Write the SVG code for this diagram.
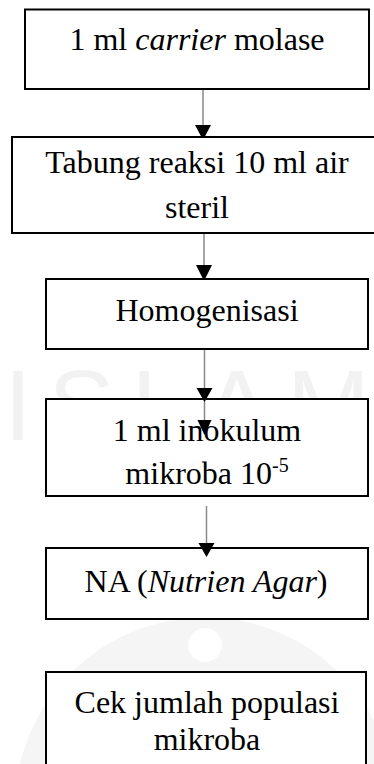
<svg xmlns="http://www.w3.org/2000/svg" width="374" height="764" viewBox="0 0 374 764">
  <defs>
    <style>
      .box { fill: #ffffff; stroke: #000000; stroke-width: 2; }
      .lbl { font-family: "Liberation Serif", "Times New Roman", serif; font-size: 32px; fill: #000000; text-anchor: middle; }
      .wm { font-family: "Liberation Sans", Arial, sans-serif; font-size: 100px; fill: #f2f2f2; }
      .conn { stroke: #8a8a8a; stroke-width: 1.5; fill: none; }
      .head { fill: #000000; }
    </style>
  </defs>
  <rect width="374" height="764" fill="#ffffff"/>

  <g id="watermark">
    <text class="wm" x="4" y="440" textLength="366" lengthAdjust="spacing">ISLAM</text>
    <path d="M 20 764 A 190 190 0 0 1 390 764 Z" fill="#f5f5f5"/>
    <circle cx="205" cy="645" r="17" fill="#ffffff"/>
  </g>

  <g id="connectors">
    <line class="conn" x1="203" y1="90" x2="203" y2="128"/>
    <polygon class="head" points="195,125 211,125 203,140"/>
    <line class="conn" x1="204" y1="234" x2="204" y2="268"/>
    <polygon class="head" points="196,265 212,265 204,281"/>
  </g>

  <g id="node1">
    <rect class="box" x="25" y="9.5" width="344" height="79.5"/>
    <text class="lbl" x="197" y="50">1 ml <tspan font-style="italic">carrier</tspan> molase</text>
  </g>

  <g id="node2">
    <rect class="box" x="12" y="137" width="370" height="96"/>
    <text class="lbl" x="197" y="173">Tabung reaksi 10 ml air</text>
    <text class="lbl" x="197" y="218">steril</text>
  </g>

  <g id="node3">
    <rect class="box" x="46" y="279" width="322" height="70"/>
    <text class="lbl" x="207" y="321">Homogenisasi</text>
  </g>

  <g id="node4">
    <rect class="box" x="46" y="399" width="322" height="97"/>
    <text class="lbl" x="207" y="441">1 ml inokulum</text>
    <text class="lbl" x="207" y="484">mikroba 10<tspan font-size="20" dy="-12">-5</tspan></text>
  </g>

  <g id="node5">
    <rect class="box" x="46" y="548" width="322" height="71"/>
    <text class="lbl" x="206" y="592">NA (<tspan font-style="italic">Nutrien Agar</tspan>)</text>
  </g>

  <g id="node6">
    <rect class="box" x="46" y="672" width="320" height="110"/>
    <text class="lbl" x="207" y="713">Cek jumlah populasi</text>
    <text class="lbl" x="207" y="750">mikroba</text>
  </g>

  <g id="connectors-over">
    <line class="conn" x1="204.5" y1="350" x2="204.5" y2="425"/>
    <polygon class="head" points="196.5,388 212.5,388 204.5,402"/>
    <polygon class="head" points="197.5,420 211.5,420 204.5,435"/>
    <line class="conn" x1="206.5" y1="506" x2="206.5" y2="546"/>
    <polygon class="head" points="198.5,543 214.5,543 206.5,557"/>
  </g>
</svg>
